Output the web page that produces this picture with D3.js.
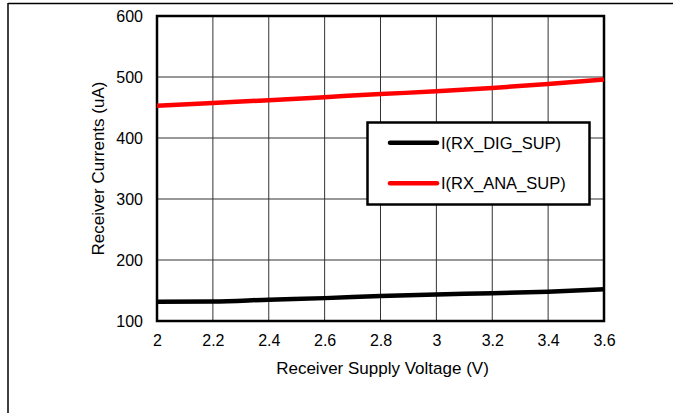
<!DOCTYPE html>
<html><head><meta charset="utf-8">
<script src="https://cdn.jsdelivr.net/npm/d3@7"></script>
<style>body{margin:0;background:#fff}svg{display:block;font-family:"Liberation Sans",Arial,sans-serif}</style>
</head><body>
<svg id="c" width="673" height="413"></svg>
<script>
const voltages = [2.0, 2.2, 2.4, 2.6, 2.8, 3.0, 3.2, 3.4, 3.6];
const digSup = [131.5, 132, 135, 137.5, 141, 143.5, 145.5, 148, 152];
const anaSup = [453, 457.5, 462, 467, 472, 476.5, 482, 488.5, 496];
const seriesNames = ["I(RX_DIG_SUP)", "I(RX_ANA_SUP)"];
const seriesColors = ["#000000", "#ff0000"];
const xTicks = [2, 2.2, 2.4, 2.6, 2.8, 3, 3.2, 3.4, 3.6];
const yTicks = [100, 200, 300, 400, 500, 600];

const svg = d3.select("#c");
const L = 157, R = 604, T = 16, B = 321;
const x = d3.scaleLinear().domain([2, 3.6]).range([L, R]);
const y = d3.scaleLinear().domain([100, 600]).range([B, T]);

// outer frame
svg.append("line").attr("x1", 8).attr("x2", 673).attr("y1", 3.5).attr("y2", 3.5).attr("stroke", "#000").attr("stroke-width", 1.5);
svg.append("line").attr("x1", 8).attr("x2", 8).attr("y1", 3).attr("y2", 413).attr("stroke", "#000").attr("stroke-width", 1.5);

// grid
svg.append("g").selectAll("line").data(xTicks).join("line")
  .attr("x1", d => x(d)).attr("x2", d => x(d)).attr("y1", T).attr("y2", B)
  .attr("stroke", "#333").attr("stroke-width", 1);
svg.append("g").selectAll("line").data(yTicks).join("line")
  .attr("x1", L).attr("x2", R).attr("y1", d => y(d)).attr("y2", d => y(d))
  .attr("stroke", "#333").attr("stroke-width", 1);

// axes labels via d3 axes
const xAxis = svg.append("g").attr("transform", `translate(0,${B})`)
  .call(d3.axisBottom(x).tickValues(xTicks).tickSize(0).tickPadding(14).tickFormat(d3.format("")));
const yAxis = svg.append("g").attr("transform", `translate(${L},0)`)
  .call(d3.axisLeft(y).tickValues(yTicks).tickSize(0).tickPadding(14));
[xAxis, yAxis].forEach(g => {
  g.select(".domain").remove();
  g.selectAll("text").attr("font-size", 16).attr("fill", "#000").attr("font-family", "Liberation Sans, Arial, sans-serif");
});

// plot border
svg.append("rect").attr("x", L).attr("y", T).attr("width", R - L).attr("height", B - T)
  .attr("fill", "none").attr("stroke", "#000").attr("stroke-width", 2.5);

// lines
const line = d3.line().x((d, i) => x(voltages[i])).y(d => y(d)).curve(d3.curveMonotoneX);
[digSup, anaSup].forEach((s, i) => {
  svg.append("path").datum(s).attr("d", line).attr("fill", "none")
    .attr("stroke", seriesColors[i]).attr("stroke-width", 4.5);
});

// titles
svg.append("text").attr("x", (L + R) / 2 + 2).attr("y", 374).attr("text-anchor", "middle")
  .attr("font-size", 17).text("Receiver Supply Voltage (V)");
svg.append("text").attr("transform", `translate(104,${(T + B) / 2}) rotate(-90)`).attr("text-anchor", "middle")
  .attr("font-size", 17).text("Receiver Currents (uA)");

// legend
const lg = svg.append("g");
lg.append("rect").attr("x", 367.5).attr("y", 122.5).attr("width", 222).attr("height", 82)
  .attr("fill", "#fff").attr("stroke", "#000").attr("stroke-width", 2.5);
seriesNames.forEach((n, i) => {
  const yy = 142.7 + i * 40.6;
  lg.append("line").attr("x1", 390).attr("x2", 437).attr("y1", yy).attr("y2", yy)
    .attr("stroke", seriesColors[i]).attr("stroke-width", 4.5).attr("stroke-linecap", "round");
  lg.append("text").attr("x", 441).attr("y", yy + 6).attr("font-size", 16.5).text(n);
});
</script>
</body></html>
